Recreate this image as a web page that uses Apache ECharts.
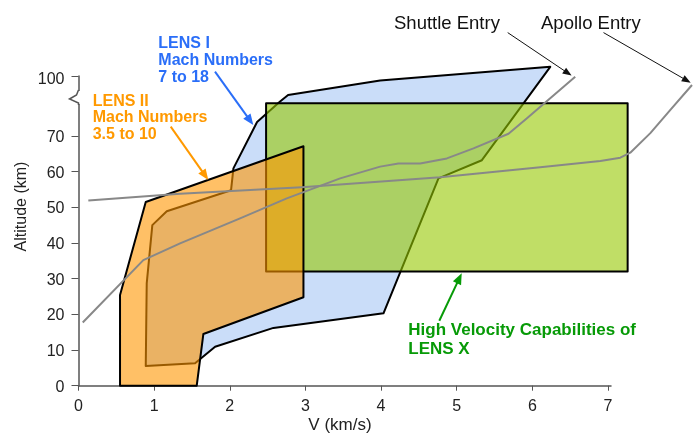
<!DOCTYPE html>
<html>
<head>
<meta charset="utf-8">
<script src="https://cdn.jsdelivr.net/npm/echarts@6/dist/echarts.min.js"></script>
<style>
html,body{margin:0;padding:0;background:#fff;}
#chart{width:696px;height:433px;}
</style>
</head>
<body>
<div id="chart"></div>
<script>
// ---- data (V in km/s, altitude in km) ----
const xTicks = [0, 1, 2, 3, 4, 5, 6, 7];
const yTicks = [0, 10, 20, 30, 40, 50, 60, 70, 100];

const lens1V   = [0.889, 1.541, 1.806, 2.577, 4.032, 4.759, 5.333, 6.237, 3.988, 2.771, 2.665, 2.361, 2.048, 2.017, 1.167, 0.976, 0.902];
const lens1Alt = [5.5, 6.3, 10.9, 16.2, 20.3, 58.1, 63.2, 104.6, 97.7, 90.5, 87.2, 77.0, 60.9, 54.8, 48.9, 45.0, 28.7];

const lens2V   = [0.549, 0.549, 0.889, 2.974, 2.974, 1.651, 1.563];
const lens2Alt = [0, 25.4, 51.5, 67.1, 24.8, 14.5, 0];

const lensXV   = [2.48, 7.26, 7.26, 2.48];
const lensXAlt = [32.0, 32.0, 86.4, 86.4];

const shuttleV   = [0.056, 0.857, 1.343, 2.136, 2.754, 3.459, 3.988, 4.230, 4.517, 4.870, 5.222, 5.685, 5.929, 6.567];
const shuttleAlt = [17.7, 35.2, 39.9, 46.9, 52.5, 58.1, 61.4, 62.3, 62.3, 63.7, 66.5, 71.1, 78.9, 99.6];

const apolloV   = [0.130, 1.343, 2.952, 4.782, 6.104, 6.899, 7.163, 7.295, 7.560, 7.825, 8.111];
const apolloAlt = [51.9, 53.8, 55.6, 58.4, 61.2, 63.0, 63.9, 65.3, 71.4, 83.0, 95.5];

// ---- broken altitude axis: 70..100 km is compressed ----
const BREAK_AT = 70, BREAK_K = 0.56;
function brk(a) { return a <= BREAK_AT ? a : BREAK_AT + (a - BREAK_AT) * BREAK_K; }
function pts(vs, as) { return vs.map((v, i) => [v, brk(as[i])]); }

const FONT = '"Liberation Sans", Arial, sans-serif';
const chart = echarts.init(document.getElementById('chart'), null, {renderer: 'canvas'});

function polySeries(name, data, fill, z) {
  return {
    type: 'custom', name: name, z: z, clip: false, silent: true,
    data: data,
    renderItem: function (params, api) {
      if (params.dataIndex !== 0) return null;
      return {
        type: 'polygon',
        shape: { points: data.map(p => api.coord(p)) },
        style: { fill: fill, stroke: '#000', lineWidth: 2, lineJoin: 'round' }
      };
    }
  };
}
function lineSeries(name, data) {
  return {
    type: 'custom', name: name, z: 10, clip: false, silent: true,
    data: data,
    renderItem: function (params, api) {
      if (params.dataIndex !== 0) return null;
      return {
        type: 'polyline',
        shape: { points: data.map(p => api.coord(p)) },
        style: { fill: null, stroke: '#888888', lineWidth: 2, lineJoin: 'round' }
      };
    }
  };
}

const yMax = brk(100);

chart.setOption({
  animation: false,
  backgroundColor: '#fff',
  grid: { left: 78.5, right: 85, top: 76, bottom: 47.3, containLabel: false, outerBoundsMode: 'none' },
  xAxis: {
    type: 'value', min: 0, max: 7.04,
    splitLine: { show: false },
    axisLine: { show: true, lineStyle: { color: '#555', width: 1.5 } },
    axisTick: { show: true, length: 5, inside: false, customValues: xTicks, lineStyle: { color: '#555' } },
    axisLabel: { customValues: xTicks, margin: 13, color: '#222', fontSize: 16, fontFamily: FONT }
  },
  yAxis: {
    type: 'value', min: 0, max: yMax,
    splitLine: { show: false },
    axisLine: { show: true, lineStyle: { color: '#555', width: 1.5 } },
    axisTick: { show: true, length: 7, inside: false, customValues: yTicks.map(brk), lineStyle: { color: '#555' } },
    axisLabel: {
      customValues: yTicks.map(brk), margin: 14, color: '#222', fontSize: 16, fontFamily: FONT,
      formatter: function (v) {
        let best = yTicks[0];
        yTicks.forEach(t => { if (Math.abs(brk(t) - v) < Math.abs(brk(best) - v)) best = t; });
        return best > BREAK_AT ? '{b|' + best + '}' : '{a|' + best + '}';
      },
      rich: {
        a: { fontSize: 16, fontFamily: FONT, color: '#222', padding: [3, 0, 0, 0] },
        b: { fontSize: 16, fontFamily: FONT, color: '#222', padding: [8, 0, 0, 0] }
      }
    }
  },
  series: [
    polySeries('LENS I', pts(lens1V, lens1Alt), '#CADDF9', 1),
    polySeries('LENS X', pts(lensXV, lensXAlt), 'rgba(150,200,0,0.6)', 2),
    polySeries('LENS II', pts(lens2V, lens2Alt), 'rgba(255,150,0,0.6)', 3),
    lineSeries('Shuttle Entry', pts(shuttleV, shuttleAlt)),
    lineSeries('Apollo Entry', pts(apolloV, apolloAlt))
  ]
});

// ---- annotations ----
function arrow(x1, y1, x2, y2, color, w, hl, hw) {
  const a = Math.atan2(y2 - y1, x2 - x1), c = Math.cos(a), s = Math.sin(a);
  const bx = x2 - hl * c, by = y2 - hl * s;
  return [
    { type: 'line', z: 100, shape: { x1: x1, y1: y1, x2: bx + c, y2: by + s }, style: { stroke: color, lineWidth: w } },
    { type: 'polygon', z: 100, shape: { points: [[x2, y2], [bx + hw * s, by - hw * c], [bx - hw * s, by + hw * c]] }, style: { fill: color } }
  ];
}
function txt(text, x, y, color, font, lh, va, align, rot) {
  return {
    type: 'text', z: 100, x: x, y: y, rotation: rot || 0,
    style: { text: text, x: 0, y: 0, fill: color, font: font, lineHeight: lh,
      align: align || 'left', verticalAlign: va || 'top', textAlign: align || 'left', textVerticalAlign: va || 'top' }
  };
}

const ax = chart.convertToPixel({ xAxisIndex: 0 }, 0);
const yTop = chart.convertToPixel({ yAxisIndex: 0 }, yMax);
const BLUE = '#2A6EF8', ORANGE = '#FF9900', GREEN = '#079A07';
const g = [];
// axis break symbol
g.push({ type: 'rect', z: 90, shape: { x: ax - 1.5, y: yTop + 15, width: 3, height: 13 }, style: { fill: '#fff' } });
g.push({ type: 'polyline', z: 91, shape: { points: [[ax, yTop + 14], [ax - 2, yTop + 19], [ax - 9, yTop + 23], [ax, yTop + 27], [ax, yTop + 29]] }, style: { stroke: '#555', lineWidth: 1.5, fill: null } });

g.push(txt('Shuttle Entry', 394, 23.5, '#111', '18.5px ' + FONT, 20, 'middle'));
g.push(txt('Apollo Entry', 541, 23.5, '#111', '18.5px ' + FONT, 20, 'middle'));
g.push(...arrow(507.7, 32.6, 571.6, 75.6, '#111', 1, 9, 3.5));
g.push(...arrow(603.5, 32.6, 690.7, 82.7, '#111', 1, 9, 3.5));

g.push(txt('LENS I\nMach Numbers\n7 to 18', 158.3, 35.2, BLUE, 'bold 16px ' + FONT, 17));
g.push(...arrow(215, 71.7, 253.3, 125, BLUE, 2, 11, 4.5));

g.push(txt('LENS II\nMach Numbers\n3.5 to 10', 92.7, 93, ORANGE, 'bold 16px ' + FONT, 16.5));
g.push(...arrow(170.7, 126.7, 208.3, 180, ORANGE, 2, 11, 4.5));

g.push(txt('High Velocity Capabilities of\nLENS X', 408.3, 320.5, GREEN, 'bold 17px ' + FONT, 19));
g.push(...arrow(439.3, 320.7, 461.7, 273.3, GREEN, 2, 11, 4.5));

g.push(txt('Altitude (km)', 22, 206.5, '#222', '16px ' + FONT, 18, 'middle', 'center', Math.PI / 2));
g.push(txt('V (km/s)', 340, 425.5, '#222', '17px ' + FONT, 18, 'middle', 'center'));

chart.setOption({ graphic: g });
</script>
</body>
</html>
